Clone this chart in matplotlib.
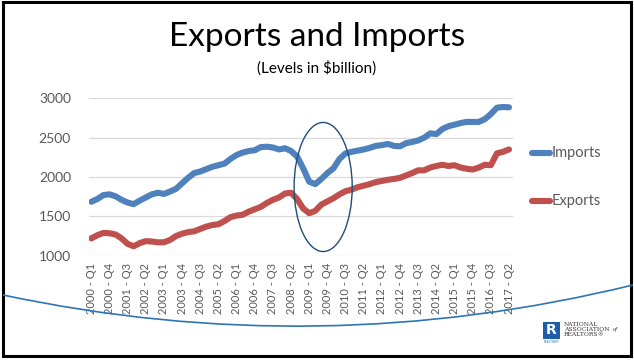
import matplotlib
matplotlib.use('Agg')
import matplotlib.pyplot as plt
from matplotlib.patches import Ellipse, Rectangle, PathPatch
from matplotlib.path import Path
from matplotlib.lines import Line2D

# Quarterly levels, $billion, 2000 Q1 .. 2017 Q2
quarters = [f'{y} - Q{q}' for y in range(2000, 2018) for q in range(1, 5)][:70]

imports = [1685, 1720, 1770, 1780, 1755, 1710, 1675, 1655, 1700, 1740,
           1780, 1800, 1785, 1815, 1850, 1920, 1990, 2050, 2070, 2100,
           2130, 2150, 2170, 2230, 2280, 2310, 2330, 2340, 2380, 2385,
           2375, 2350, 2365, 2330, 2260, 2110, 1940, 1910, 1975, 2050,
           2110, 2230, 2300, 2320, 2335, 2350, 2370, 2395, 2405, 2420,
           2395, 2390, 2430, 2445, 2465, 2500, 2555, 2545, 2610, 2645,
           2665, 2685, 2700, 2700, 2700, 2735, 2800, 2880, 2890, 2885]

exports = [1220, 1260, 1290, 1285, 1270, 1220, 1150, 1120, 1160, 1185,
           1180, 1170, 1170, 1200, 1250, 1280, 1300, 1310, 1340, 1370,
           1390, 1400, 1440, 1490, 1510, 1520, 1560, 1590, 1620, 1670,
           1710, 1740, 1790, 1800, 1720, 1600, 1540, 1570, 1650, 1690,
           1730, 1780, 1820, 1840, 1870, 1890, 1910, 1935, 1950, 1965,
           1975, 1990, 2020, 2050, 2085, 2085, 2120, 2140, 2155, 2140,
           2150, 2120, 2105, 2095, 2120, 2155, 2150, 2300, 2320, 2350]

y_ticks = [1000, 1500, 2000, 2500, 3000]

blue = '#4F81BD'
red = '#C0504D'
grey = '#595959'
W, H = 634, 360

def fx(px):
    return px / W

def fy(py):
    return 1 - py / H

plt.rcParams['font.family'] = ['Lato', 'DejaVu Sans']

fig = plt.figure(figsize=(W / 100, H / 100), dpi=100)
fig.patch.set_facecolor('white')

ax = fig.add_axes([fx(89), fy(255.7), fx(513) - fx(89), fy(98.3) - fy(255.7)])
x = list(range(len(quarters)))
ax.plot(x, imports, color=blue, lw=4.4, solid_capstyle='round', solid_joinstyle='round', zorder=3)
ax.plot(x, exports, color=red, lw=4.4, solid_capstyle='round', solid_joinstyle='round', zorder=3)

ax.set_xlim(-0.38, 69.66)
ax.set_ylim(1000, 3000)
ax.set_yticks(y_ticks)
ax.set_yticklabels([str(v) for v in y_ticks], fontsize=10, color=grey)
ax.set_xticks(x[::3])
ax.set_xticklabels(quarters[::3], rotation=90, fontsize=8, color=grey)
ax.tick_params(length=0, axis='y', pad=13)
ax.tick_params(length=0, axis='x', pad=5)
ax.grid(axis='y', color='#D9D9D9', lw=0.9)
ax.set_axisbelow(True)
for s in ax.spines.values():
    s.set_visible(False)

# circle the 2009 slump
ax.add_patch(Ellipse((38.3, 1873), 9.6, 1640, fill=False, ec='#1F4E79', lw=1.0, zorder=4))

# titles
fig.text(0.5, fy(37), 'Exports and Imports', ha='center', va='center', fontsize=24, color='black')
fig.text(0.5, fy(68), '(Levels in $billion)', ha='center', va='center', fontsize=11, color='black')

# legend drawn by hand on the right
for label, col, py in [('Imports', blue, 152.5), ('Exports', red, 200.5)]:
    fig.add_artist(Line2D([fx(532), fx(550)], [fy(py), fy(py)], color=col, lw=4.4,
                          solid_capstyle='round'))
    fig.text(fx(552), fy(py), label, ha='left', va='center', fontsize=10.5, color=grey)

# decorative swoosh across the bottom of the slide
verts = [(fx(3), fy(295)), (fx(318), fy(362)), (fx(633), fy(285))]
swoosh = Path(verts, [Path.MOVETO, Path.CURVE3, Path.CURVE3])
fig.add_artist(PathPatch(swoosh, fill=False, ec='#2E75B6', lw=1.2, transform=fig.transFigure, zorder=5))

# logo in the corner
fig.add_artist(Rectangle((fx(543), fy(339)), fx(560) - fx(543), fy(322) - fy(339),
                         transform=fig.transFigure, fc='#1F5FAA', ec='none'))
fig.text(fx(551.5), fy(330.5), 'R', ha='center', va='center', fontsize=10, color='white',
         fontweight='bold', family='DejaVu Sans')
fig.text(fx(551.5), fy(342), 'REALTOR®', ha='center', va='center', fontsize=2.2, color='#1F5FAA')
serif = dict(ha='left', va='center', color='#333333', family='DejaVu Serif')
fig.text(fx(564), fy(324.5), 'NATIONAL', fontsize=4.3, **serif)
fig.text(fx(564), fy(329.3), 'ASSOCIATION', fontsize=4.3, **serif)
fig.text(fx(613), fy(329.3), 'of', fontsize=3.8, style='italic', **serif)
fig.text(fx(564), fy(334), 'REALTORS®', fontsize=4.3, **serif)

# slide frame
fig.add_artist(Rectangle((fx(2.5), fy(355.5)), fx(631) - fx(2.5), fy(1.5) - fy(355.5),
                         transform=fig.transFigure, fill=False, ec='black', lw=2.2))

fig.savefig('out.png', dpi=100)
